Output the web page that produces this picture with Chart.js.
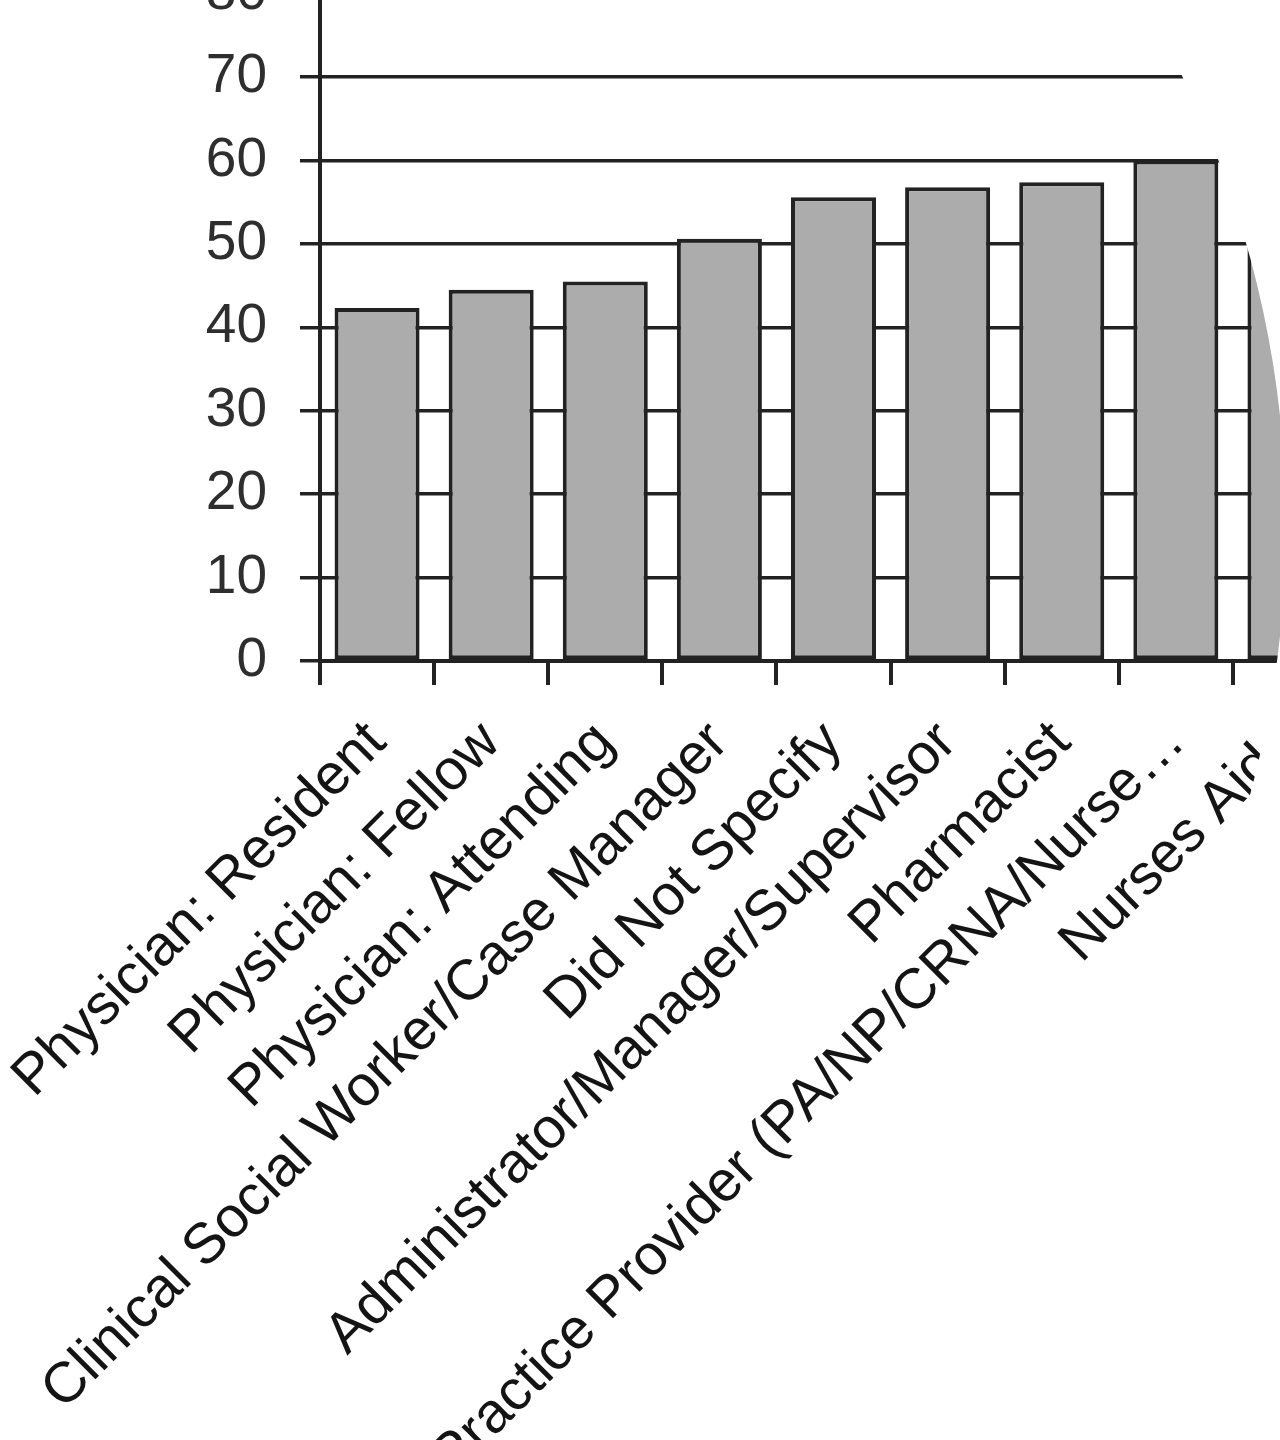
<!DOCTYPE html>
<html>
<head>
<meta charset="utf-8">
<title>Scores by role</title>
<script src="https://cdn.jsdelivr.net/npm/chart.js@4/dist/chart.umd.min.js"></script>
<style>
  html, body { margin: 0; padding: 0; background: #fff; overflow: hidden; width: 1280px; height: 1440px; }
  #wrap { position: absolute; left: 0; top: -40px; width: 1400px; height: 1480px; }
  canvas { display: block; }
</style>
</head>
<body>
<div id="wrap"><canvas id="chart" width="1400" height="1480"></canvas></div>
<script>
// Roles along the category axis
const categories = [
  'Physician: Resident',
  'Physician: Fellow',
  'Physician: Attending',
  'Clinical Social Worker/Case Manager',
  'Did Not Specify',
  'Administrator/Manager/Supervisor',
  'Pharmacist',
  'Advanced Practice Provider (PA/NP/CRNA/Nurse\u2026',
  'Nurses Aide'
];

// Score per role
const scores = [42.3, 44.5, 45.5, 50.6, 55.6, 56.8, 57.4, 60.0, 62.0];

// Value axis ticks
const yTicks = [0, 10, 20, 30, 40, 50, 60, 70, 80];

const INK = '#222222';
const Y_FONT = { family: "'Liberation Sans', Arial, sans-serif", size: 55 };
const X_FONT = { family: "'Liberation Sans', Arial, sans-serif", size: 57 };

// Fixed axis sizes so the plot sits where the page layout expects it
const Y_AXIS_WIDTH = 320;
const X_AXIS_HEIGHT = 779;

// White vignette: everything outside a large ellipse is painted white
const ellipseMask = {
  id: 'ellipseMask',
  afterDraw(chart) {
    const ctx = chart.ctx;
    ctx.save();
    ctx.beginPath();
    ctx.rect(0, 0, chart.width, chart.height);
    ctx.ellipse(100, 566, 1186, 1100, 0, 0, Math.PI * 2);
    ctx.fillStyle = '#ffffff';
    ctx.fill('evenodd');
    ctx.restore();
  }
};

new Chart(document.getElementById('chart'), {
  type: 'bar',
  data: {
    labels: categories,
    datasets: [{
      data: scores,
      backgroundColor: '#acacac',
      borderColor: INK,
      borderWidth: 4,
      borderSkipped: false,
      categoryPercentage: 1.0,
      barPercentage: 0.745
    }]
  },
  options: {
    responsive: false,
    animation: false,
    events: [],
    layout: { padding: { left: 0, right: 53, top: 33.6, bottom: 0 } },
    plugins: {
      legend: { display: false },
      tooltip: { enabled: false },
      title: { display: false }
    },
    scales: {
      x: {
        type: 'category',
        offset: true,
        grid: {
          offset: true,
          drawOnChartArea: false,
          drawTicks: true,
          tickLength: 24,
          tickWidth: 4,
          tickColor: INK,
          color: INK,
          lineWidth: 4
        },
        border: { display: true, color: INK, width: 4 },
        ticks: {
          autoSkip: false,
          minRotation: 45,
          maxRotation: 45,
          padding: 24,
          color: '#141414',
          font: X_FONT
        },
        afterFit(scale) {
          scale.height = X_AXIS_HEIGHT;
          scale.paddingLeft = 0;
          scale.paddingRight = 0;
        }
      },
      y: {
        min: yTicks[0],
        max: yTicks[yTicks.length - 1],
        afterBuildTicks(scale) {
          scale.ticks = yTicks.map(v => ({ value: v }));
        },
        grid: {
          color: INK,
          lineWidth: 3.5,
          drawTicks: true,
          tickLength: 20,
          tickColor: INK
        },
        border: { display: true, color: INK, width: 4 },
        ticks: {
          padding: 33,
          color: '#2e2e2e',
          font: Y_FONT
        },
        afterFit(scale) {
          scale.width = Y_AXIS_WIDTH;
          scale.paddingTop = 0;
          scale.paddingBottom = 0;
        }
      }
    }
  },
  plugins: [ellipseMask]
});
</script>
</body>
</html>
